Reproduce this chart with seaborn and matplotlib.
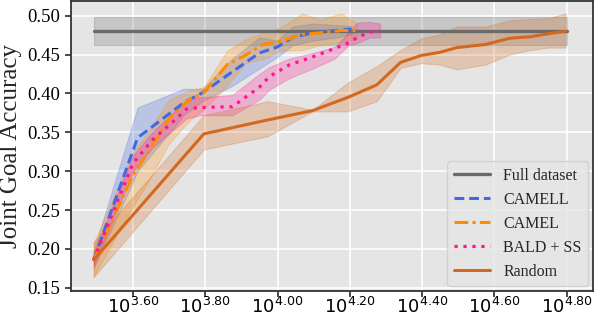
import numpy as np
import pandas as pd
import matplotlib
matplotlib.use("Agg")
import matplotlib.pyplot as plt
import seaborn as sns

# Full dataset reference
full_x = [3100, 63100]
full_mean = [0.480, 0.480]
full_lo = [0.462, 0.462]
full_hi = [0.499, 0.499]

# CAMELL
camell_x = [3100, 4100, 5500, 6200, 7500, 8900, 10000, 11000, 12500, 14500, 16000]
camell_mean = [0.186, 0.343, 0.388, 0.401, 0.428, 0.452, 0.460, 0.472, 0.478, 0.481, 0.483]
camell_lo = [0.175, 0.300, 0.372, 0.390, 0.410, 0.432, 0.447, 0.462, 0.468, 0.472, 0.476]
camell_hi = [0.198, 0.382, 0.406, 0.406, 0.445, 0.472, 0.468, 0.486, 0.490, 0.488, 0.487]

# CAMEL
camel_x = [3100, 3980, 4370, 5000, 5700, 6250, 7250, 8200, 9100, 10200, 11700, 13100, 15000, 16600]
camel_mean = [0.186, 0.295, 0.323, 0.367, 0.392, 0.401, 0.437, 0.450, 0.463, 0.467, 0.476, 0.478, 0.481, 0.481]
camel_lo = [0.165, 0.255, 0.285, 0.335, 0.365, 0.380, 0.410, 0.440, 0.444, 0.455, 0.456, 0.462, 0.466, 0.470]
camel_hi = [0.208, 0.325, 0.350, 0.392, 0.404, 0.408, 0.455, 0.470, 0.478, 0.485, 0.503, 0.495, 0.503, 0.490]

# BALD + SS
bald_x = [3100, 3980, 4500, 5200, 5600, 6100, 7500, 8900, 9500, 10800, 12500, 14400, 15700, 16600, 18000, 19200]
bald_mean = [0.186, 0.310, 0.340, 0.366, 0.380, 0.382, 0.383, 0.408, 0.422, 0.437, 0.447, 0.458, 0.465, 0.472, 0.479, 0.480]
bald_lo = [0.178, 0.300, 0.330, 0.355, 0.368, 0.372, 0.372, 0.392, 0.405, 0.420, 0.432, 0.445, 0.462, 0.465, 0.472, 0.472]
bald_hi = [0.195, 0.320, 0.350, 0.378, 0.392, 0.395, 0.398, 0.425, 0.434, 0.445, 0.452, 0.460, 0.478, 0.491, 0.492, 0.490]

# Random
rand_x = [3100, 6250, 9400, 12500, 15650, 18800, 21900, 25000, 28150, 31300, 37550, 43800, 50050, 56300, 62600]
rand_mean = [0.186, 0.348, 0.366, 0.378, 0.395, 0.411, 0.440, 0.449, 0.453, 0.459, 0.463, 0.471, 0.473, 0.477, 0.480]
rand_lo = [0.164, 0.328, 0.345, 0.377, 0.377, 0.390, 0.433, 0.439, 0.437, 0.431, 0.437, 0.450, 0.456, 0.459, 0.459]
rand_hi = [0.209, 0.372, 0.390, 0.379, 0.414, 0.435, 0.456, 0.471, 0.476, 0.486, 0.486, 0.494, 0.496, 0.497, 0.503]

tick_exps = [3.6, 3.8, 4.0, 4.2, 4.4, 4.6, 4.8]

sns.set_theme(style="darkgrid", rc={
    "axes.facecolor": "#e5e5e5",
    "axes.edgecolor": "#333333",
    "axes.linewidth": 1.3,
    "grid.color": "white",
    "grid.linewidth": 1.2,
    "xtick.bottom": True,
    "ytick.left": True,
    "xtick.major.size": 4,
    "ytick.major.size": 4,
    "xtick.color": "#333333",
    "ytick.color": "#333333",
    "xtick.labelcolor": "black",
    "ytick.labelcolor": "black",
})
plt.rcParams["font.family"] = ["Liberation Serif", "DejaVu Serif"]
plt.rcParams["mathtext.fontset"] = "dejavusans"

fig, ax = plt.subplots(figsize=(5.94, 3.18), dpi=100)
fig.subplots_adjust(left=0.1195, right=0.998, top=0.997, bottom=0.085)

series = [
    ("Full dataset", full_x, full_mean, full_lo, full_hi, "#6b6b6b", "-", 2.4),
    ("CAMELL", camell_x, camell_mean, camell_lo, camell_hi, "#4169e1", (0, (3.2, 1.6)), 2.2),
    ("CAMEL", camel_x, camel_mean, camel_lo, camel_hi, "#ff8c00", (0, (4.5, 1.4, 1, 1.4)), 2.2),
    ("BALD + SS", bald_x, bald_mean, bald_lo, bald_hi, "#ff1493", (0, (1, 1.8)), 2.3),
    ("Random", rand_x, rand_mean, rand_lo, rand_hi, "#d2691e", "-", 2.2),
]

for name, x, m, lo, hi, c, ls, lw in series:
    ax.fill_between(x, lo, hi, color=c, alpha=0.25, lw=0.8)
    sns.lineplot(x=x, y=m, ax=ax, color=c, linestyle=ls, lw=lw, label=name)

ax.set_xscale("log")
ax.set_xlim(10 ** 3.4285, 10 ** 4.872)
ax.set_ylim(0.146, 0.519)
ax.set_xticks([10 ** e for e in tick_exps])
ax.set_xticklabels([r"$10^{%.2f}$" % e for e in tick_exps], fontsize=13)
ax.xaxis.set_minor_locator(matplotlib.ticker.NullLocator())
ax.set_yticks([0.15, 0.20, 0.25, 0.30, 0.35, 0.40, 0.45, 0.50])
ax.set_yticklabels(["%.2f" % v for v in ax.get_yticks()], fontsize=13.5)
ax.tick_params(axis="x", pad=0.5)
ax.set_ylabel("Joint Goal Accuracy", fontsize=18)
ax.set_xlabel("")
for s in ax.spines.values():
    s.set_visible(True)

ax.legend(loc="lower right", fontsize=11.5, handlelength=2.3, borderaxespad=0.3)

plt.savefig("out.png", dpi=100)
